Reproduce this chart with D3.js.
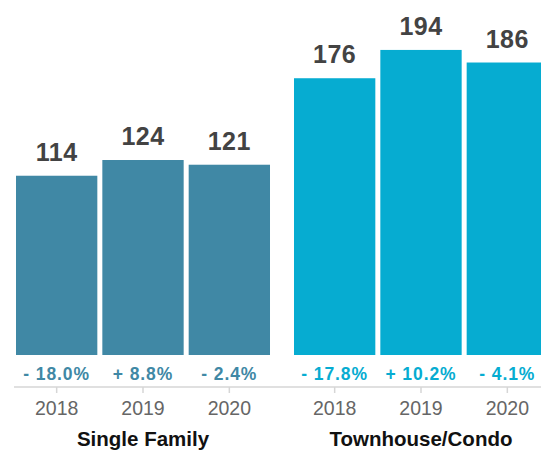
<!DOCTYPE html>
<html>
<head>
<meta charset="utf-8">
<script src="https://cdn.jsdelivr.net/npm/d3@7"></script>
<style>
  body { margin: 0; background: #fff; }
  svg { display: block; font-family: "Liberation Sans", Arial, Helvetica, sans-serif; }
</style>
</head>
<body>
<div class="chart"></div>
<script>
// data
const groups = ['Single Family', 'Townhouse/Condo'];
const years = ['2018', '2019', '2020'];
const singleFamily = [114, 124, 121];
const townhouseCondo = [176, 194, 186];
const singleFamilyChange = ['- 18.0%', '+ 8.8%', '- 2.4%'];
const townhouseCondoChange = ['- 17.8%', '+ 10.2%', '- 4.1%'];
const groupColors = ['#4088a5', '#06acd1'];

const W = 541, H = 453;
const baseY = 355, axisY = 387;

const rows = groups.map((g, i) => ({
    group: g,
    color: groupColors[i],
    values: i === 0 ? singleFamily : townhouseCondo,
    change: i === 0 ? singleFamilyChange : townhouseCondoChange
}));

const svg = d3.select('.chart').append('svg')
    .attr('width', W)
    .attr('height', H);

// outer scale per group, inner scale per year
const scaleGroup = d3.scaleBand()
    .domain(groups)
    .range([16, 548])
    .paddingInner(0.0863);
const scaleYear = d3.scaleBand()
    .domain(years)
    .range([0, scaleGroup.bandwidth()])
    .paddingInner(0.058);
const scaleY = d3.scaleLinear()
    .domain([0, 200])
    .range([baseY, 40.5]);

// continuous baseline for the axis
svg.append('line')
    .attr('x1', 14).attr('x2', W)
    .attr('y1', axisY).attr('y2', axisY)
    .attr('stroke', '#d6d6d6')
    .attr('stroke-width', 1.5);

const groupG = svg.selectAll('.group')
    .data(rows)
    .enter()
    .append('g')
    .attr('class', 'group')
    .attr('transform', d => `translate(${scaleGroup(d.group)},0)`);

groupG.each(function(d){
    const g = d3.select(this);
    const items = years.map((y, i) => ({year: y, value: d.values[i], change: d.change[i]}));

    g.selectAll('rect')
        .data(items)
        .enter()
        .append('rect')
        .attr('x', e => scaleYear(e.year))
        .attr('width', scaleYear.bandwidth())
        .attr('y', e => scaleY(e.value))
        .attr('height', e => baseY - scaleY(e.value))
        .attr('fill', d.color);

    g.selectAll('.value')
        .data(items)
        .enter()
        .append('text')
        .attr('class', 'value')
        .attr('x', e => scaleYear(e.year) + scaleYear.bandwidth()/2)
        .attr('y', e => scaleY(e.value) - 15)
        .attr('text-anchor', 'middle')
        .attr('font-size', '25px')
        .attr('font-weight', 'bold')
        .attr('letter-spacing', '0.5px')
        .attr('fill', '#434343')
        .text(e => e.value);

    g.selectAll('.change')
        .data(items)
        .enter()
        .append('text')
        .attr('class', 'change')
        .attr('x', e => scaleYear(e.year) + scaleYear.bandwidth()/2)
        .attr('y', 380)
        .attr('text-anchor', 'middle')
        .attr('font-size', '17.5px')
        .attr('font-weight', 'bold')
        .attr('letter-spacing', '0.9px')
        .attr('fill', d.color)
        .text(e => e.change);

    const axis = d3.axisBottom(scaleYear)
        .tickSize(6)
        .tickSizeOuter(0)
        .tickPadding(8.5);
    const axisG = g.append('g')
        .attr('transform', `translate(0,${axisY})`)
        .call(axis);
    axisG.select('.domain').remove();
    axisG.selectAll('.tick line')
        .attr('stroke', '#d6d6d6')
        .attr('stroke-width', 1.5);
    axisG.selectAll('.tick text')
        .attr('font-family', '"Liberation Sans", Arial, sans-serif')
        .attr('font-size', '19.5px')
        .attr('fill', '#666');

    g.append('text')
        .attr('x', scaleGroup.bandwidth()/2)
        .attr('y', 446)
        .attr('text-anchor', 'middle')
        .attr('font-size', '20.5px')
        .attr('font-weight', 'bold')
        .attr('fill', '#111')
        .text(d.group);
});
</script>
</body>
</html>
